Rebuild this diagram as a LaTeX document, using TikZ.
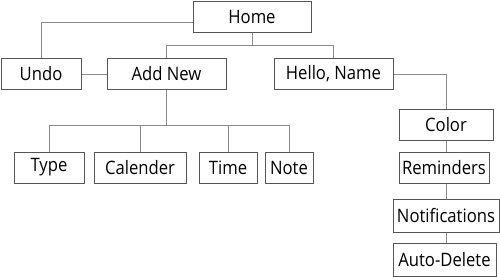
\documentclass[tikz,border=0pt]{standalone}
\usepackage{fontspec}
\setmainfont[FakeStretch=0.9]{Open Sans}
\usepackage{tikz}
\usetikzlibrary{positioning}
\definecolor{boxline}{HTML}{555555}
\definecolor{wire}{HTML}{8A8A8A}
\tikzstyle{block} = [draw=boxline, line width=1pt, rectangle, inner sep=0pt,
    minimum height=31pt, font=\fontsize{18.5}{20}\selectfont]
\tikzstyle{link} = [draw=wire, line width=1pt]

\begin{document}
\begin{tikzpicture}[x=1pt, y=-1pt]
\useasboundingbox (0,0) rectangle (500,276);

            % Top row
            \node (home) [block, minimum width=118pt] at (252,16.5) {Home};
            \node (undo) [block, minimum width=80pt] at (41,74) {Undo};
            \node (addnew) [block, minimum width=119pt] at (166.5,74) {Add New};
            \node (hello) [block, minimum width=119pt] at (333.5,74) {Hello, Name};

            % Add New items
            \node (type) [block, minimum width=70pt] at (49,167.5) {Type};
            \node (calender) [block, minimum width=92pt] at (140,167.5) {Calender};
            \node (time) [block, minimum width=58pt] at (228,167.5) {Time};
            \node (note) [block, minimum width=48pt] at (289,167.5) {Note};

            % Settings column
            \node (color) [block, minimum width=94pt] at (446,125) {Color};
            \node (reminders) [block, minimum width=90pt] at (444,168) {Reminders};
            \node (notifications) [block, minimum width=106pt, minimum height=33pt] at (446,215.5) {Notifications};
            \node (autodelete) [block, minimum width=103pt, minimum height=33pt] at (444.5,259.5) {Auto-Delete};

            % Links
            \draw [link] ([yshift=-5.5pt]home.west) -| (undo.north);
            \draw [link] (home.south) -- ++(0,13) -| (addnew.north);
            \draw [link] (home.south) -- ++(0,13) -| (hello.north);
            \draw [link] (undo) -- (addnew);
            \foreach \n in {type,calender,time,note}
                \draw [link] (addnew.south) -- ++(0,35) -| (\n.north);
            \draw [link] (hello.east) -| (color.north);
            \draw [link] (color) -- (color |- reminders.north);
            \draw [link] (reminders.south -| color) -- (color |- notifications.north);
            \draw [link] (notifications) -- (color |- autodelete.north);

\end{tikzpicture}
\end{document}
